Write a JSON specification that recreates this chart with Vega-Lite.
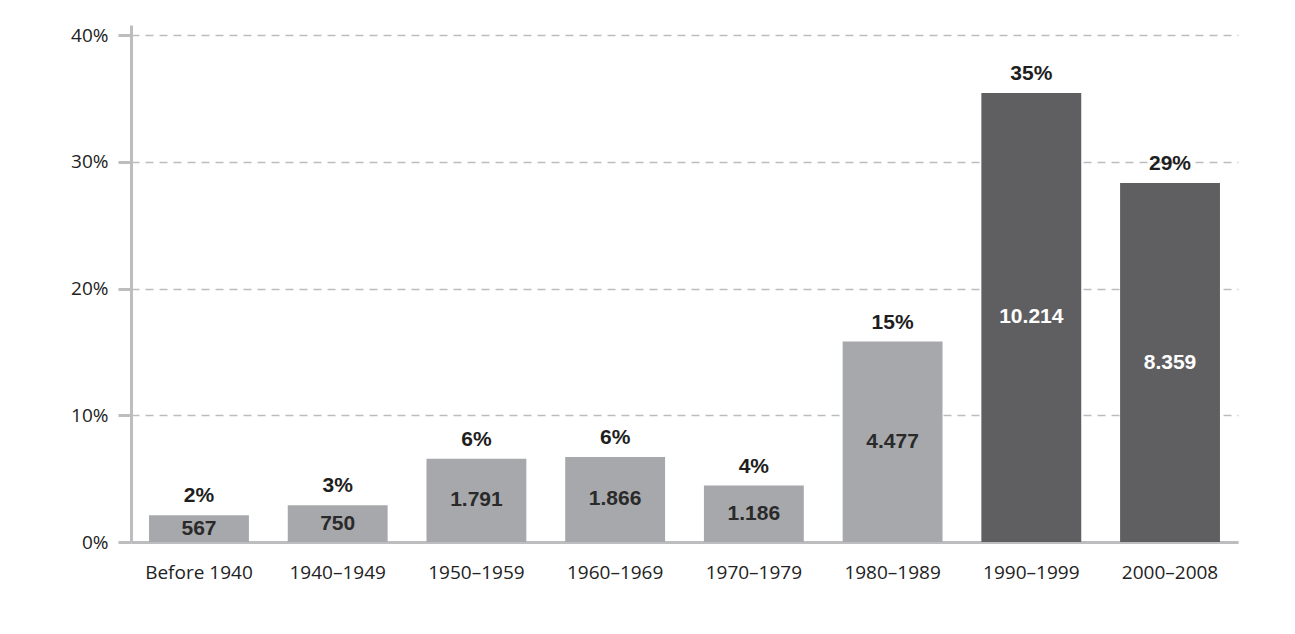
{
  "$schema": "https://vega.github.io/schema/vega-lite/v6.json",
  "width": 1107,
  "height": 517,
  "autosize": "none",
  "padding": {"left": 131, "top": 25, "right": 57, "bottom": 92},
  "background": "white",
  "config": {"view": {"stroke": null}},
  "data": {"values": [
    {"period": "Before 1940", "pct": 2.11, "label": "2%", "count": "567", "dark": false},
    {"period": "1940–1949", "pct": 2.90, "label": "3%", "count": "750", "dark": false},
    {"period": "1950–1959", "pct": 6.56, "label": "6%", "count": "1.791", "dark": false},
    {"period": "1960–1969", "pct": 6.71, "label": "6%", "count": "1.866", "dark": false},
    {"period": "1970–1979", "pct": 4.45, "label": "4%", "count": "1.186", "dark": false},
    {"period": "1980–1989", "pct": 15.82, "label": "15%", "count": "4.477", "dark": false},
    {"period": "1990–1999", "pct": 35.44, "label": "35%", "count": "10.214", "dark": true},
    {"period": "2000–2008", "pct": 28.33, "label": "29%", "count": "8.359", "dark": true}
  ]},
  "transform": [{"calculate": "datum.pct / 2", "as": "mid"}],
  "encoding": {
    "x": {
      "field": "period", "type": "nominal", "sort": null,
      "scale": {"paddingInner": 0.28, "paddingOuter": 0.13},
      "axis": {
        "title": null, "labelAngle": 0, "ticks": false,
        "domainColor": "#bdbdbf", "domainWidth": 3,
        "labelFont": "Open Sans", "labelFontSize": 19, "labelColor": "#222222",
        "labelPadding": 21
      }
    }
  },
  "layer": [
    {
      "mark": {"type": "bar"},
      "encoding": {
        "y": {
          "field": "pct", "type": "quantitative",
          "scale": {"domain": [0, 40.8], "nice": false},
          "axis": {
            "title": null, "values": [0, 10, 20, 30, 40],
            "labelExpr": "datum.value + '%'",
            "domainColor": "#bdbdbf", "domainWidth": 3,
            "tickColor": "#bdbdbf", "tickWidth": 3, "tickSize": 13,
            "grid": true, "gridColor": "#bdbdbf", "gridDash": [8, 6], "gridWidth": 1.5,
            "labelFont": "Open Sans", "labelFontSize": 19, "labelColor": "#222222",
            "labelPadding": 10
          }
        },
        "color": {
          "field": "dark", "type": "nominal",
          "scale": {"domain": [false, true], "range": ["#a7a8ab", "#5f5f62"]},
          "legend": null
        }
      }
    },
    {
      "mark": {"type": "text", "baseline": "bottom", "dy": -9, "font": "Liberation Sans", "fontWeight": "bold", "fontSize": 21, "color": "#1e1e1e"},
      "encoding": {
        "y": {"field": "pct", "type": "quantitative"},
        "text": {"field": "label"}
      }
    },
    {
      "mark": {"type": "text", "baseline": "middle", "font": "Liberation Sans", "fontWeight": "bold", "fontSize": 21},
      "encoding": {
        "y": {"field": "mid", "type": "quantitative"},
        "text": {"field": "count"},
        "color": {
          "field": "dark", "type": "nominal",
          "scale": {"domain": [false, true], "range": ["#2a2a2a", "#ffffff"]},
          "legend": null
        }
      }
    }
  ],
  "resolve": {"scale": {"color": "independent"}}
}
